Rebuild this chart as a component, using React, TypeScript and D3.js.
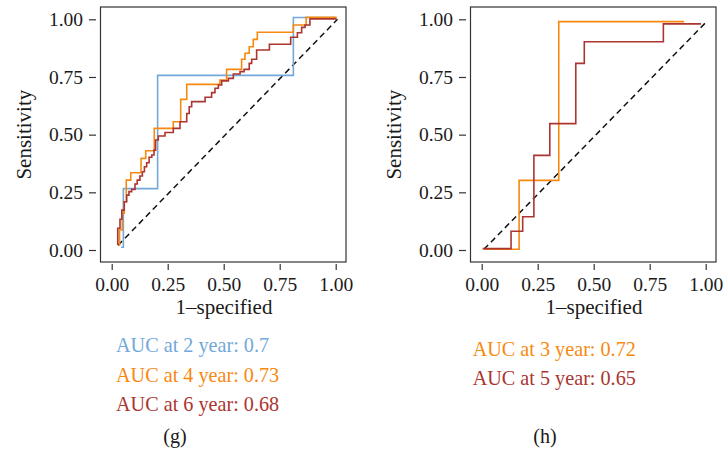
import React, { useRef, useEffect } from "react";
import * as d3 from "d3";

// ---- data ----
// panel (g)
const gFpr2 = [0.042, 0.052, 0.205, 0.811, 1.004];
const gTpr2 = [0.012, 0.266, 0.757, 1.008, 1.008];

const gFpr4 = [0.03, 0.035, 0.047, 0.056, 0.065, 0.085, 0.131, 0.152, 0.19, 0.275, 0.308, 0.335, 0.483, 0.513, 0.58, 0.595, 0.614, 0.632, 0.65, 0.811, 0.868, 1.004];
const gTpr4 = [0.022, 0.087, 0.16, 0.209, 0.303, 0.335, 0.397, 0.43, 0.527, 0.556, 0.653, 0.718, 0.737, 0.783, 0.827, 0.853, 0.881, 0.913, 0.944, 0.975, 1.009, 1.009];

const gFpr6 = [0.027, 0.027, 0.037, 0.045, 0.056, 0.067, 0.077, 0.089, 0.104, 0.114, 0.126, 0.137, 0.146, 0.156, 0.167, 0.179, 0.189, 0.196, 0.208, 0.238, 0.275, 0.305, 0.335, 0.346, 0.357, 0.417, 0.446, 0.461, 0.476, 0.491, 0.521, 0.543, 0.573, 0.591, 0.614, 0.625, 0.647, 0.704, 0.799, 0.829, 0.848, 0.863, 0.885, 1.004];
const gTpr6 = [0.022, 0.094, 0.133, 0.173, 0.209, 0.238, 0.253, 0.263, 0.286, 0.303, 0.321, 0.339, 0.361, 0.378, 0.402, 0.412, 0.433, 0.477, 0.494, 0.509, 0.527, 0.556, 0.592, 0.621, 0.643, 0.662, 0.682, 0.701, 0.715, 0.733, 0.744, 0.763, 0.773, 0.783, 0.809, 0.827, 0.867, 0.892, 0.922, 0.942, 0.965, 0.975, 1.002, 1.002];

const gDiag = [[0.028, 0.02], [1.008, 1.0]];

// panel (h)
const hFpr3 = [0.015, 0.167, 0.344, 0.904];
const hTpr3 = [0.003, 0.302, 0.99, 0.99];

const hFpr5 = [0.004, 0.131, 0.183, 0.233, 0.304, 0.42, 0.458, 0.811, 0.979];
const hTpr5 = [0.006, 0.081, 0.144, 0.41, 0.548, 0.809, 0.903, 0.98, 0.98];

const hDiag = [[0.01, 0.003], [0.997, 0.983]];

const tickValues = [0, 0.25, 0.5, 0.75, 1];
const tickLabels = ["0.00", "0.25", "0.50", "0.75", "1.00"];

const BLUE = "#72a8da";
const ORANGE = "#f7890f";
const BROWN = "#ab3530";

const FONT = "Liberation Serif, Times New Roman, serif";

const zip = (xs, ys) => xs.map((x, i) => ({ x, y: ys[i] }));

const panels = [
  {
    offset: 0,
    tag: "(g)",
    legendX: 116,
    legendY: [352, 382, 411],
    series: [
      { name: "AUC at 2 year: 0.7", color: BLUE, data: zip(gFpr2, gTpr2) },
      { name: "AUC at 4 year: 0.73", color: ORANGE, data: zip(gFpr4, gTpr4) },
      { name: "AUC at 6 year: 0.68", color: BROWN, data: zip(gFpr6, gTpr6) },
    ],
    diag: gDiag,
  },
  {
    offset: 370,
    tag: "(h)",
    legendX: 102.7,
    legendY: [356, 385],
    series: [
      { name: "AUC at 3 year: 0.72", color: ORANGE, data: zip(hFpr3, hTpr3) },
      { name: "AUC at 5 year: 0.65", color: BROWN, data: zip(hFpr5, hTpr5) },
    ],
    diag: hDiag,
  },
];

export default function App() {
  const svgRef = useRef(null);

  useEffect(() => {
    const root = d3.select(svgRef.current);
    root.selectAll("*").remove();

    panels.forEach((p) => {
      const g = root.append("g").attr("transform", `translate(${p.offset},0)`);

      const xScale = d3.scaleLinear().domain([0, 1]).range([111.7, 335.7]);
      const yScale = d3.scaleLinear().domain([0, 1]).range([250, 19.3]);

      // frame
      g.append("rect")
        .attr("x", 100.5)
        .attr("y", 7)
        .attr("width", 245.5)
        .attr("height", 255)
        .attr("fill", "none")
        .attr("stroke", "#333")
        .attr("stroke-width", 1.2);

      // axes
      const xAxis = g
        .append("g")
        .attr("transform", "translate(0,264)")
        .call(
          d3
            .axisBottom(xScale)
            .tickValues(tickValues)
            .tickFormat((d, i) => tickLabels[i])
            .tickSize(6)
            .tickPadding(7.5)
        );
      const yAxis = g
        .append("g")
        .attr("transform", "translate(96,0)")
        .call(
          d3
            .axisLeft(yScale)
            .tickValues(tickValues)
            .tickFormat((d, i) => tickLabels[i])
            .tickSize(7)
            .tickPadding(6)
        );
      [xAxis, yAxis].forEach((a) => {
        a.select(".domain").remove();
        a.selectAll("line").attr("stroke", "#333").attr("stroke-width", 1.2);
        a.selectAll("text")
          .attr("fill", "#1a1a1a")
          .attr("font-family", FONT)
          .attr("font-size", 19.5);
      });

      // diagonal reference
      g.append("path")
        .datum(p.diag)
        .attr("fill", "none")
        .attr("stroke", "#111")
        .attr("stroke-width", 1.5)
        .attr("stroke-dasharray", "6,4")
        .attr(
          "d",
          d3
            .line()
            .x((d) => xScale(d[0]))
            .y((d) => yScale(d[1]))
        );

      const line = d3
        .line()
        .curve(d3.curveStepAfter)
        .x((d) => xScale(d.x))
        .y((d) => yScale(d.y));

      p.series.forEach((s) => {
        g.append("path")
          .datum(s.data)
          .attr("fill", "none")
          .attr("stroke", s.color)
          .attr("stroke-width", 1.6)
          .attr("d", line);
      });

      // labels
      g.append("text")
        .attr("x", 224)
        .attr("y", 313.5)
        .attr("text-anchor", "middle")
        .attr("font-family", FONT)
        .attr("font-size", 21)
        .attr("fill", "#1a1a1a")
        .text("1–specified");

      g.append("text")
        .attr("transform", `translate(31,134.7) rotate(-90)`)
        .attr("text-anchor", "middle")
        .attr("font-family", FONT)
        .attr("font-size", 21)
        .attr("fill", "#1a1a1a")
        .text("Sensitivity");

      p.series.forEach((s, i) => {
        g.append("text")
          .attr("x", p.legendX)
          .attr("y", p.legendY[i])
          .attr("font-family", FONT)
          .attr("font-size", 20.2)
          .attr("fill", s.color)
          .text(s.name);
      });

      g.append("text")
        .attr("x", 175)
        .attr("y", 443)
        .attr("text-anchor", "middle")
        .attr("font-family", FONT)
        .attr("font-size", 20)
        .attr("fill", "#1a1a1a")
        .text(p.tag);
    });
  }, []);

  return (
    <svg
      ref={svgRef}
      width={723}
      height={460}
      style={{ position: "absolute", left: 0, top: 0, background: "#fff" }}
    />
  );
}
